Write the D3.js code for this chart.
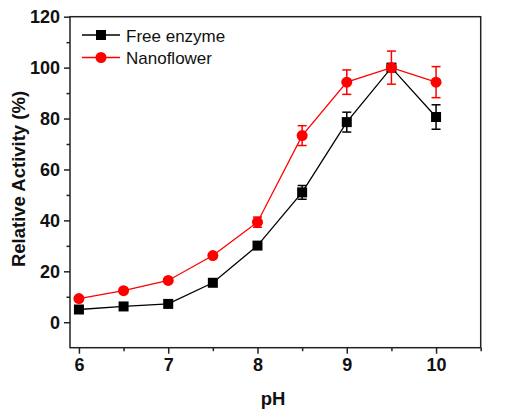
<!DOCTYPE html>
<html><head><meta charset="utf-8">
<script src="https://cdn.jsdelivr.net/npm/d3@7/dist/d3.min.js"></script>
<style>body{margin:0;background:#fff}svg{display:block}text{font-family:"Liberation Sans",Arial,sans-serif}</style>
</head><body>
<svg id="c" width="523" height="420"></svg>
<script>
const pH = [6, 6.5, 7, 7.5, 8, 8.5, 9, 9.5, 10];
const freeEnzyme = [5.0, 6.2, 7.2, 15.5, 30.1, 51.0, 78.6, 100.0, 80.6];
const freeErr = [0, 0, 0, 0, 1.0, 2.7, 3.9, 0, 4.8];
const nanoflower = [9.3, 12.4, 16.4, 26.2, 39.3, 73.3, 94.3, 100.0, 94.3];
const nanoErr = [0, 0, 0, 0, 2.0, 3.9, 4.8, 6.5, 6.1];
const xTicks = [6, 7, 8, 9, 10];
const xMinor = [6.5, 7.5, 8.5, 9.5, 10.5];
const yTicks = [0, 20, 40, 60, 80, 100, 120];
const yMinor = [10, 30, 50, 70, 90, 110];
const seriesNames = ["Free enzyme", "Nanoflower"];

const svg = d3.select("#c");
const L = 70, R = 480.7, T = 16.7, B = 347.7;
const x = d3.scaleLinear().domain([5.9, 10.5]).range([L, R]);
const y = d3.scaleLinear().domain([-10, 120]).range([B, T]);

// frame
svg.append("rect").attr("x", L).attr("y", T).attr("width", R - L).attr("height", B - T)
  .attr("fill", "none").attr("stroke", "#222").attr("stroke-width", 1.5);

// axes
svg.append("g").attr("transform", `translate(0,${B})`)
  .call(d3.axisBottom(x).tickValues(xTicks).tickFormat(d3.format("d")).tickSize(6).tickPadding(5));
svg.append("g").attr("transform", `translate(0,${B})`)
  .call(d3.axisBottom(x).tickValues(xMinor).tickFormat("").tickSize(3.5))
  .call(g => g.select(".domain").remove());
svg.append("g").attr("transform", `translate(${L},0)`)
  .call(d3.axisLeft(y).tickValues(yTicks).tickFormat(d3.format("d")).tickSize(6).tickPadding(4));
svg.append("g").attr("transform", `translate(${L},0)`)
  .call(d3.axisLeft(y).tickValues(yMinor).tickFormat("").tickSize(3.5))
  .call(g => g.select(".domain").remove());
svg.selectAll(".domain").remove();
svg.selectAll(".tick line").attr("stroke", "#222").attr("stroke-width", 1.5);
svg.selectAll(".tick text").attr("fill", "#111").style("font-family", "'Liberation Sans',Arial,sans-serif")
  .style("font-size", "18px").style("font-weight", "bold");

// axis titles
svg.append("text").attr("x", 273).attr("y", 405).attr("text-anchor", "middle")
  .style("font-size", "18.5px").style("font-weight", "bold").attr("fill", "#111").text("pH");
svg.append("text").attr("transform", `translate(25,179) rotate(-90)`).attr("text-anchor", "middle")
  .style("font-size", "18.5px").style("font-weight", "bold").attr("fill", "#111").text("Relative Activity (%)");

const series = [
  {name: seriesNames[0], vals: freeEnzyme, err: freeErr, color: "#000", shape: "square"},
  {name: seriesNames[1], vals: nanoflower, err: nanoErr, color: "#ff0000", shape: "circle"}
];
const line = d3.line().x((d, i) => x(pH[i])).y(d => y(d));

function marker(g, shape, cx, cy, color) {
  if (shape === "square") g.append("rect").attr("x", cx - 5).attr("y", cy - 5).attr("width", 10).attr("height", 10).attr("fill", color);
  else g.append("circle").attr("cx", cx).attr("cy", cy).attr("r", 5.5).attr("fill", color);
}

series.forEach(s => {
  const g = svg.append("g");
  g.append("path").datum(s.vals).attr("d", line).attr("fill", "none").attr("stroke", s.color).attr("stroke-width", 1.3);
  s.vals.forEach((v, i) => {
    const e = s.err[i];
    if (e > 0) {
      const cx = x(pH[i]);
      g.append("line").attr("x1", cx).attr("x2", cx).attr("y1", y(v - e)).attr("y2", y(v + e)).attr("stroke", s.color).attr("stroke-width", 1.5);
      [v - e, v + e].forEach(t => g.append("line").attr("x1", cx - 4.5).attr("x2", cx + 4.5).attr("y1", y(t)).attr("y2", y(t)).attr("stroke", s.color).attr("stroke-width", 1.5));
    }
    marker(g, s.shape, x(pH[i]), y(v), s.color);
  });
});

// legend
series.forEach((s, k) => {
  const ly = 35 + k * 22.5;
  const g = svg.append("g");
  g.append("line").attr("x1", 82).attr("x2", 120).attr("y1", ly).attr("y2", ly).attr("stroke", s.color).attr("stroke-width", 1.3);
  marker(g, s.shape, 101, ly, s.color);
  g.append("text").attr("x", 126).attr("y", ly + 6.5).style("font-size", "17px").attr("fill", "#111").text(s.name);
});
</script>
</body></html>
